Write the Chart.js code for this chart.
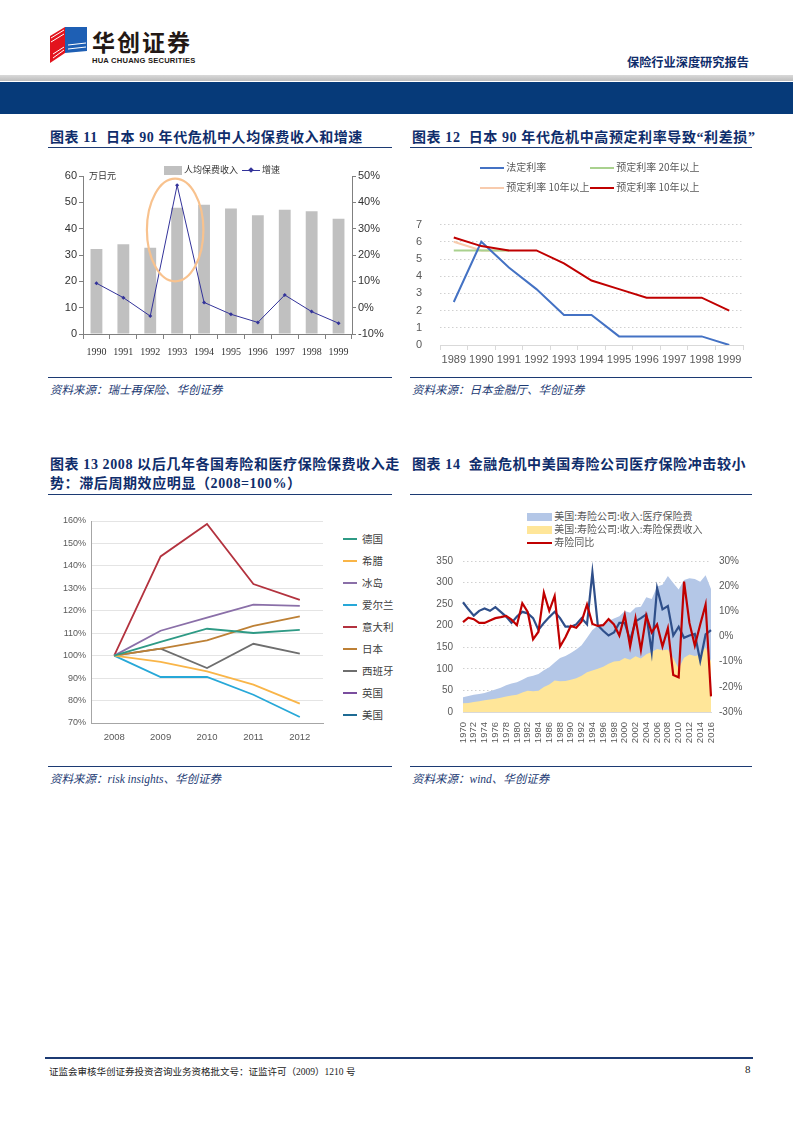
<!DOCTYPE html>
<html>
<head>
<meta charset="utf-8">
<script src="https://cdn.jsdelivr.net/npm/chart.js@4.4.1/dist/chart.umd.min.js"></script>
<style>
  body { margin: 0; width: 793px; height: 1122px; position: relative; background: #fff; overflow: hidden;
         font-family: "Noto Sans CJK SC", sans-serif; }
  .abs { position: absolute; white-space: nowrap; }
  .title { position: absolute; white-space: nowrap; color: #0f2d6b; font-weight: bold; font-size: 14px;
           font-family: "Liberation Serif", "Noto Sans CJK SC", serif; letter-spacing: 0.6px; line-height: 19px; }
  .rule { position: absolute; height: 0; border-top: 1.6px solid #1c3a73; }
  .src { position: absolute; white-space: nowrap; color: #1c3a73; font-style: italic; font-size: 11.5px;
         font-family: "Liberation Serif", "Noto Sans CJK SC", serif; }
  .box { position: absolute; }
  .leg { position: absolute; white-space: nowrap; font-size: 10px; color: #595959; line-height: 12px; }
  .leg i { display: inline-block; vertical-align: middle; }
</style>
</head>
<body>

<!-- header -->
<svg class="abs" style="left:50px;top:27px" width="38" height="36" viewBox="0 0 38 36">
  <polygon points="0,9 15,0 15,26 0,36" fill="#e3141d"/>
  <polygon points="15,0 37,0 37,24 15,26" fill="#1e5fb4"/>
  <g stroke="#fff" stroke-width="1">
    <line x1="3" y1="27" x2="14" y2="20"/><line x1="3" y1="31" x2="14" y2="23"/>
    <line x1="1" y1="11" x2="14" y2="3"/><line x1="1" y1="15" x2="14" y2="7"/>
    <line x1="18" y1="22" x2="36" y2="20"/><line x1="18" y1="18" x2="36" y2="16"/>
  </g>
</svg>
<div class="abs" style="left:92px;top:27px;font-size:23px;line-height:28px;font-weight:bold;color:#231815;letter-spacing:2px;">华创证券</div>
<div class="abs" style="left:92px;top:56px;font-size:7.6px;line-height:9px;font-weight:bold;color:#231815;font-family:'Liberation Sans Narrow','Liberation Sans',sans-serif;letter-spacing:0.2px;">HUA CHUANG SECURITIES</div>
<div class="abs" style="left:627px;top:53px;font-size:12.2px;font-weight:bold;color:#0f2d6b;">保险行业深度研究报告</div>
<div class="abs" style="left:0;top:75px;width:793px;height:6px;background:linear-gradient(#d9d9d9,#bdbdbd);"></div>
<div class="abs" style="left:0;top:82px;width:793px;height:32px;background:#063a79;"></div>

<!-- chart 11 -->
<div class="title" style="left:50px;top:128px;">图表 11&nbsp; 日本 90 年代危机中人均保费收入和增速</div>
<div class="rule" style="left:48px;top:146.5px;width:344px;"></div>
<div class="box" style="left:48px;top:165px;width:340px;height:200px;"><canvas id="c11"></canvas></div>
<div class="leg" style="left:164px;top:164px;font-size:9px;color:#333;">
  <i style="width:18px;height:9px;background:#c0c0c0;"></i><span style="margin-left:2px;">人均保费收入</span>
  <i style="width:18px;height:1px;background:#33339a;margin-left:2px;position:relative;"><i style="position:absolute;left:7px;top:-2px;width:4px;height:4px;background:#33339a;transform:rotate(45deg);"></i></i><span style="margin-left:2px;">增速</span>
</div>
<div class="abs" style="left:89px;top:169px;font-size:9px;color:#333;">万日元</div>
<div class="rule" style="left:48px;top:376.5px;width:344px;"></div>
<div class="src" style="left:50px;top:381px;">资料来源：瑞士再保险、华创证券</div>

<!-- chart 12 -->
<div class="title" style="left:412px;top:128px;">图表 12&nbsp; 日本 90 年代危机中高预定利率导致“利差损”</div>
<div class="rule" style="left:410px;top:146.5px;width:342px;"></div>
<div class="box" style="left:412px;top:200px;width:340px;height:170px;"><canvas id="c12"></canvas></div>
<div class="leg" style="left:480px;top:161px;">
  <i style="width:24px;height:2px;background:#4472c4;"></i> 法定利率
</div>
<div class="leg" style="left:590px;top:161px;">
  <i style="width:24px;height:2px;background:#a9d18e;"></i> 预定利率 20年以上
</div>
<div class="leg" style="left:480px;top:181px;">
  <i style="width:24px;height:2px;background:#f8cbad;"></i> 预定利率 10年以上
</div>
<div class="leg" style="left:590px;top:181px;">
  <i style="width:24px;height:2px;background:#c00000;"></i> 预定利率 10年以上
</div>
<div class="rule" style="left:410px;top:376.5px;width:342px;"></div>
<div class="src" style="left:412px;top:381px;">资料来源：日本金融厅、华创证券</div>

<!-- chart 13 -->
<div class="title" style="left:50px;top:455px;">图表 13 2008 以后几年各国寿险和医疗保险保费收入走<br>势：滞后周期效应明显（2008=100%）</div>
<div class="rule" style="left:48px;top:493.5px;width:344px;"></div>
<div class="box" style="left:50px;top:510px;width:280px;height:240px;"><canvas id="c13"></canvas></div>
<div id="leg13" class="abs" style="left:343px;top:532px;"></div>
<div class="rule" style="left:48px;top:765.5px;width:344px;"></div>
<div class="src" style="left:50px;top:770px;">资料来源：risk insights、华创证券</div>

<!-- chart 14 -->
<div class="title" style="left:412px;top:455px;">图表 14&nbsp; 金融危机中美国寿险公司医疗保险冲击较小</div>
<div class="rule" style="left:410px;top:493.5px;width:342px;"></div>
<div class="box" style="left:430px;top:545px;width:320px;height:205px;"><canvas id="c14"></canvas></div>
<div class="leg" style="left:527px;top:510px;">
  <i style="width:25px;height:8px;background:#b4c7e7;"></i> 美国:寿险公司:收入:医疗保险费
</div>
<div class="leg" style="left:527px;top:523px;">
  <i style="width:25px;height:8px;background:#ffe699;"></i> 美国:寿险公司:收入:寿险保费收入
</div>
<div class="leg" style="left:527px;top:536px;">
  <i style="width:25px;height:2px;background:#c00000;"></i> 寿险同比
</div>
<div class="rule" style="left:410px;top:765.5px;width:342px;"></div>
<div class="src" style="left:412px;top:770px;">资料来源：wind、华创证券</div>

<!-- footer -->
<div class="abs" style="left:45px;top:1057px;width:708px;height:1.6px;background:#1c3a73;"></div>
<div class="abs" style="left:49px;top:1064px;font-size:9.5px;color:#222;font-family:'Liberation Serif','Noto Sans CJK SC',serif;">证监会审核华创证券投资咨询业务资格批文号：证监许可（2009）1210 号</div>
<div class="abs" style="left:745px;top:1063px;font-size:11px;color:#222;font-family:'Liberation Serif',serif;">8</div>

<script>
// chart 11: 人均保费收入 (万日元) and 增速 (%)
const years11 = ["1990", "1991", "1992", "1993", "1994", "1995", "1996", "1997", "1998", "1999"];
const premium11 = [32.3, 34.1, 32.8, 47.9, 49.1, 47.7, 45.1, 47.2, 46.6, 43.8];
const growth11 = [9.3, 3.8, -3.2, 46.5, 2.0, -2.5, -5.6, 4.8, -1.5, -5.9];

// chart 12: 利率 (%)
const years12 = ["1989", "1990", "1991", "1992", "1993", "1994", "1995", "1996", "1997", "1998", "1999"];
const statutoryRate = [2.5, 6.0, 4.5, 3.25, 1.75, 1.75, 0.5, 0.5, 0.5, 0.5, 0];
const assumed20y = [5.5, 5.5, 5.5, null, null, null, null, null, null, null, null];
const assumed10yLight = [6.0, 5.5, 5.5, null, null, null, null, null, null, null, null];
const assumed10y = [6.25, 5.75, 5.5, 5.5, 4.75, 3.75, 3.25, 2.75, 2.75, 2.75, 2.0];

// chart 13: 2008 = 100%
const years13 = ["2008", "2009", "2010", "2011", "2012"];
const countries13 = ["德国", "希腊", "冰岛", "爱尔兰", "意大利", "日本", "西班牙", "英国", "美国"];
const germany = [100, 106.1, 112.0, 110.1, 111.5];
const greece = [100, 97.2, 93.0, 87.1, 78.6];
const iceland = [100, 111.1, 117.0, 122.7, 122.2];
const ireland = [100, 90.5, 90.5, 82.6, 72.7];
const italy = [100, 144.2, 158.7, 131.9, 124.9];
const japan = [100, 103.1, 106.8, 113.3, 117.5];
const spain = [100, 103.1, 94.5, 105.3, 100.9];
const uk = [];
const usa = [];

// chart 14: 美国寿险公司
const years14 = [];
for (let y = 1970; y <= 2016; y++) years14.push(String(y));
const healthPremium = [34, 37, 40, 42, 44, 48, 52, 56, 62, 66,
  69, 75, 81, 84, 88, 97, 104, 115, 125, 130,
  137, 145, 155, 172, 190, 200, 205, 211, 217, 222,
  234, 230, 242, 244, 266, 262, 291, 295, 315, 299,
  284, 306, 310, 308, 302, 317, 285];
const lifePremium = [20, 21, 23, 25, 27, 29, 31, 33, 36, 38,
  40, 45, 49, 48, 49, 58, 64, 73, 71, 72,
  75, 78, 84, 92, 96, 100, 105, 112, 117, 118,
  125, 121, 129, 124, 134, 139, 146, 143, 145, 125,
  100, 126, 133, 130, 132, 150, 117];
const lifeYoY = [5.7, 7.5, 6.9, 5.4, 5.4, 6.4, 7.3, 7.7, 8.2, 6.7,
  4.5, 13.2, 9.8, -1.1, 1.9, 17.4, 10.2, 16.1, -4.0, -0.3,
  4.2, 3.5, 6.0, 12.7, 5.0, 4.2, 4.5, 6.9, 4.8, 0.4,
  8.6, -4.0, 7.3, -5.3, 8.3, 1.6, 4.8, -4.0, 3.3, -15.3,
  -16.2, 21.8, 5.4, -3.6, 4.8, 12.7, -23.8];
const healthYoY = [13.6, 10.8, 8.3, 10.2, 11.1, 10.2, 11.7, 9.8, 7.9, 5.4,
  7.9, 9.8, 9.2, 7.3, 2.6, 5.4, 7.7, 9.8, 7.3, 3.9,
  3.9, 4.8, 7.3, 4.8, 25.5, 4.5, 2.3, 0.4, 1.6, 5.4,
  5.4, -1.5, 6.0, 7.3, 8.8, -6.2, 19.2, 10.8, 12.1, 0.4,
  3.9, -0.5, 0.4, 1.0, -9.7, 0.8, 2.5];

Chart.defaults.font.family = "'Liberation Sans', 'Noto Sans CJK SC', sans-serif";
Chart.defaults.color = "#595959";
Chart.defaults.animation = false;
Chart.defaults.plugins.legend.display = false;
Chart.defaults.plugins.tooltip.enabled = false;

const fixWidth = (w) => (scale) => { scale.width = w; };
const fixHeight = (h) => (scale) => { scale.height = h; };
const pct = (v) => v + "%";

// orange ring around the 1993 spike
const focusRing = {
  id: "focusRing",
  afterDatasetsDraw(chart) {
    const { ctx, scales: { x, y } } = chart;
    const cx = x.getPixelForValue(3) - 2;
    const top = y.getPixelForValue(59);
    const bottom = y.getPixelForValue(20);
    const rx = (x.getPixelForValue(1) - x.getPixelForValue(0)) * 1.05;
    ctx.save();
    ctx.strokeStyle = "#f8c28e";
    ctx.lineWidth = 2.2;
    ctx.beginPath();
    ctx.ellipse(cx, (top + bottom) / 2, rx, (bottom - top) / 2, 0, 0, Math.PI * 2);
    ctx.stroke();
    ctx.restore();
  },
};

new Chart(document.getElementById("c11"), {
  type: "bar",
  data: {
    labels: years11,
    datasets: [
      {
        type: "line",
        label: "增速",
        data: growth11,
        yAxisID: "y1",
        borderColor: "#33339a",
        borderWidth: 1,
        pointStyle: "rectRot",
        pointRadius: 2,
        pointBackgroundColor: "#33339a",
        pointBorderWidth: 0,
        order: 0,
      },
      {
        label: "人均保费收入",
        data: premium11,
        backgroundColor: "#c0c0c0",
        categoryPercentage: 1,
        barPercentage: 0.44,
        order: 1,
      },
    ],
  },
  options: {
    maintainAspectRatio: false,
    layout: { padding: { top: 11, bottom: 6, left: 0, right: 0 } },
    scales: {
      x: {
        grid: { offset: true, drawOnChartArea: false, tickLength: 5, color: "#808080" },
        border: { color: "#808080" },
        ticks: { font: { family: "'Liberation Serif'", size: 10 }, color: "#333", padding: 7, maxRotation: 0 },
        afterFit: fixHeight(25),
      },
      y: {
        position: "left",
        min: 0,
        max: 60,
        ticks: { stepSize: 10, font: { size: 11 }, color: "#333", padding: 2 },
        grid: { drawOnChartArea: false, tickLength: 4, color: "#808080" },
        border: { color: "#808080" },
        afterFit: fixWidth(35),
      },
      y1: {
        position: "right",
        min: -10,
        max: 50,
        ticks: { stepSize: 10, callback: pct, font: { size: 11 }, color: "#333", padding: 2 },
        grid: { drawOnChartArea: false, tickLength: 4, color: "#808080" },
        border: { color: "#808080" },
        afterFit: fixWidth(36),
      },
    },
  },
  plugins: [focusRing],
});

new Chart(document.getElementById("c12"), {
  type: "line",
  data: {
    labels: years12,
    datasets: [
      { label: "预定利率 10年以上", data: assumed10y, borderColor: "#c00000" },
      { label: "法定利率", data: statutoryRate, borderColor: "#4472c4" },
      { label: "预定利率 20年以上", data: assumed20y, borderColor: "#a9d18e" },
      { label: "预定利率 10年以上", data: assumed10yLight, borderColor: "#f8cbad" },
    ].map((d) => ({ ...d, borderWidth: 2, pointRadius: 0, tension: 0 })),
  },
  options: {
    maintainAspectRatio: false,
    layout: { padding: { top: 9, bottom: 5, left: 0, right: 9 } },
    scales: {
      x: {
        offset: true,
        grid: { offset: true, drawOnChartArea: false, tickLength: 5, color: "#d9d9d9" },
        border: { color: "#d9d9d9" },
        ticks: { font: { size: 11 }, color: "#595959", padding: 3, maxRotation: 0, minRotation: 0, autoSkip: false },
        afterFit: fixHeight(20),
      },
      y: {
        min: 0,
        max: 7,
        ticks: { stepSize: 1, font: { size: 11 }, color: "#595959", padding: 18 },
        grid: { color: "#d0d0d0", drawTicks: false },
        border: { display: false, dash: [1.5, 2.5] },
        afterFit: fixWidth(28),
      },
    },
  },
});

const colors13 = ["#2e9a85", "#f9b548", "#8a6fa8", "#27a8d8", "#b3323e", "#bd8035", "#6e6e6e", "#7a4d9e", "#1e6b94"];
const series13 = [germany, greece, iceland, ireland, italy, japan, spain, uk, usa];

new Chart(document.getElementById("c13"), {
  type: "line",
  data: {
    labels: years13,
    datasets: countries13.map((name, i) => ({
      label: name,
      data: series13[i],
      borderColor: colors13[i],
      borderWidth: 1.8,
      pointRadius: 0,
      tension: 0,
    })),
  },
  options: {
    maintainAspectRatio: false,
    layout: { padding: { top: 11, bottom: 5, left: 0, right: 7 } },
    scales: {
      x: {
        offset: true,
        grid: { display: false, drawTicks: false },
        border: { color: "#a6a6a6" },
        ticks: { font: { size: 9.5 }, color: "#595959", padding: 9, maxRotation: 0 },
        afterFit: fixHeight(22),
      },
      y: {
        min: 70,
        max: 160,
        ticks: { stepSize: 10, callback: pct, font: { size: 9 }, color: "#595959", padding: 5 },
        grid: { color: "#e4e4e4", drawTicks: false },
        border: { color: "#a6a6a6" },
        afterFit: fixWidth(41),
      },
    },
  },
});

// legend for chart 13
const leg13 = document.getElementById("leg13");
countries13.forEach((name, i) => {
  const row = document.createElement("div");
  row.style.cssText = "height:22px;line-height:12px;font-size:10.5px;color:#404040;white-space:nowrap;";
  row.innerHTML = `<i style="display:inline-block;vertical-align:middle;width:14px;height:2px;background:${colors13[i]};"></i><span style="margin-left:5px;vertical-align:middle;">${name}</span>`;
  leg13.appendChild(row);
});

new Chart(document.getElementById("c14"), {
  type: "line",
  data: {
    labels: years14,
    datasets: [
      {
        label: "寿险同比",
        data: lifeYoY,
        yAxisID: "y1",
        borderColor: "#c00000",
        borderWidth: 2.2,
        pointRadius: 0,
        tension: 0,
        order: 0,
      },
      {
        label: "医疗同比",
        data: healthYoY,
        yAxisID: "y1",
        borderColor: "#2f4f8a",
        borderWidth: 2.2,
        pointRadius: 0,
        tension: 0,
        order: 1,
      },
      {
        label: "美国:寿险公司:收入:寿险保费收入",
        data: lifePremium,
        yAxisID: "y",
        backgroundColor: "#ffe699",
        borderWidth: 0,
        pointRadius: 0,
        fill: "origin",
        order: 2,
      },
      {
        label: "美国:寿险公司:收入:医疗保险费",
        data: healthPremium,
        yAxisID: "y",
        backgroundColor: "#b4c7e7",
        borderWidth: 0,
        pointRadius: 0,
        fill: "origin",
        order: 3,
      },
    ],
  },
  options: {
    maintainAspectRatio: false,
    layout: { padding: { top: 8, bottom: 2, left: 0, right: 0 } },
    scales: {
      x: {
        grid: { display: false },
        border: { color: "#d9d9d9" },
        ticks: {
          autoSkip: false,
          maxRotation: 90,
          minRotation: 90,
          callback: (v, i) => (i % 2 === 0 ? years14[i] : ""),
          font: { size: 9.5 },
          color: "#595959",
          padding: 2,
        },
        afterFit: fixHeight(36),
      },
      y: {
        position: "left",
        min: 0,
        max: 350,
        ticks: { stepSize: 50, font: { size: 10 }, color: "#595959", padding: 10 },
        grid: { color: "#d0d0d0", drawTicks: false },
        border: { display: false, dash: [1.5, 2.5] },
        afterFit: fixWidth(33),
      },
      y1: {
        position: "right",
        min: -30,
        max: 30,
        ticks: { stepSize: 10, callback: pct, font: { size: 10 }, color: "#595959", padding: 8 },
        grid: { drawOnChartArea: false, drawTicks: false },
        border: { display: false },
        afterFit: fixWidth(39),
      },
    },
  },
});
</script>
</body>
</html>
